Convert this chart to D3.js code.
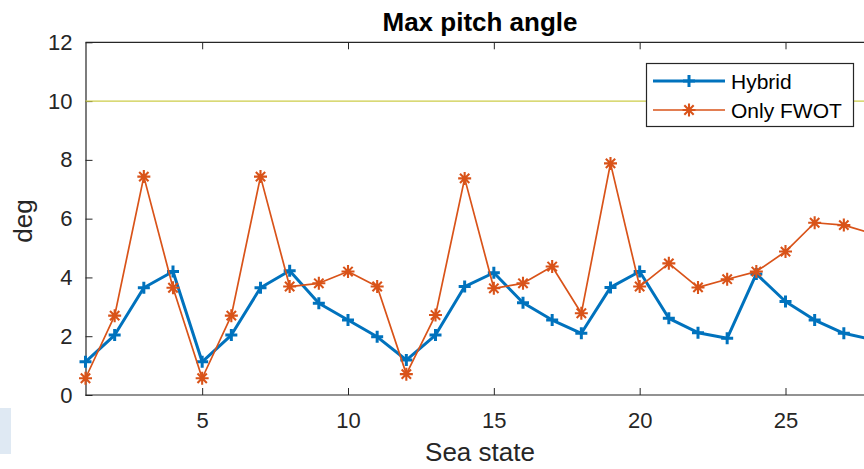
<!DOCTYPE html>
<html>
<head>
<meta charset="utf-8">
<script src="https://cdn.jsdelivr.net/npm/d3@7"></script>
<style>
  html, body { margin: 0; padding: 0; background: #fff; }
  svg { display: block; font-family: "Liberation Sans", Arial, Helvetica, sans-serif; }
</style>
</head>
<body>
<script>
// sea state index and the max pitch angle (deg) for each controller
const seaState = [1, 2, 3, 4, 5, 6, 7, 8, 9, 10, 11, 12, 13, 14, 15, 16, 17, 18, 19, 20, 21, 22, 23, 24, 25, 26, 27, 28];
const hybrid = [1.13, 2.04, 3.65, 4.2, 1.13, 2.04, 3.65, 4.23, 3.12, 2.55, 1.98, 1.19, 2.04, 3.69, 4.16, 3.14, 2.55, 2.1, 3.66, 4.2, 2.61, 2.12, 1.93, 4.12, 3.18, 2.55, 2.1, 1.88];
const onlyFwot = [0.57, 2.7, 7.43, 3.65, 0.57, 2.7, 7.43, 3.69, 3.8, 4.2, 3.69, 0.71, 2.72, 7.37, 3.63, 3.8, 4.37, 2.78, 7.88, 3.69, 4.48, 3.66, 3.94, 4.2, 4.88, 5.86, 5.78, 5.48];
const limit = 10;
const xTicks = [5, 10, 15, 20, 25];
const yTicks = [0, 2, 4, 6, 8, 10, 12];

const width = 864, height = 469;
const plotLeft = 85.5, plotTop = 42.3, plotBottom = 395;

const svg = d3.select('body').append('svg')
    .attr('width', width)
    .attr('height', height);

// little light blue patch in the lower left corner of the original picture
svg.append('rect')
    .attr('x', 0).attr('y', 408)
    .attr('width', 11).attr('height', 46)
    .attr('fill', '#dfe9f3');

const x = d3.scaleLinear().domain([1, 28]).range([plotLeft, 873]);
const y = d3.scaleLinear().domain([0, 12]).range([plotBottom, plotTop]);

const axisColor = '#262626';

// bottom axis
const gx = svg.append('g')
    .attr('transform', `translate(0,${plotBottom})`)
    .call(d3.axisBottom(x).tickValues(xTicks).tickSizeInner(-7).tickSizeOuter(0).tickPadding(17));
// top axis, ticks only
const gt = svg.append('g')
    .attr('transform', `translate(0,${plotTop})`)
    .call(d3.axisTop(x).tickValues(xTicks).tickSizeInner(-7).tickSizeOuter(0).tickFormat(''));
// left axis
const gy = svg.append('g')
    .attr('transform', `translate(${plotLeft},0)`)
    .call(d3.axisLeft(y).tickValues(yTicks).tickSizeInner(-7).tickSizeOuter(0).tickPadding(13));

[gx, gt, gy].forEach(g => {
    g.select('.domain').attr('stroke', axisColor).attr('stroke-width', 1.2);
    g.selectAll('.tick line').attr('stroke', axisColor);
    g.selectAll('.tick text')
        .attr('fill', axisColor)
        .style('font-size', '22px')
        .style('font-family', '"Liberation Sans", Arial, sans-serif');
});
// stretch the horizontal axis lines to the picture edge
gx.select('.domain').attr('d', `M${plotLeft},0H${width}`);
gt.select('.domain').attr('d', `M${plotLeft},0H${width}`);

// 10 deg limit line
svg.append('line')
    .attr('x1', x(1)).attr('x2', width)
    .attr('y1', y(limit)).attr('y2', y(limit))
    .attr('stroke', '#cccc48')
    .attr('stroke-width', 1.3);

function plusPath(r) {
    return `M${-r},0H${r}M0,${-r}V${r}`;
}
function starPath(r) {
    const d = r * 0.72;
    return `M${-r},0H${r}M0,${-r}V${r}M${-d},${-d}L${d},${d}M${-d},${d}L${d},${-d}`;
}

const series = [
    { name: 'Hybrid', values: hybrid, color: '#0072BD', width: 3, marker: plusPath(6), markerWidth: 3 },
    { name: 'Only FWOT', values: onlyFwot, color: '#D95319', width: 1.7, marker: starPath(6.5), markerWidth: 2.1 }
];

const line = d3.line()
    .x((d, i) => x(seaState[i]))
    .y(d => y(d));

series.forEach(s => {
    svg.append('path')
        .datum(s.values)
        .attr('fill', 'none')
        .attr('stroke', s.color)
        .attr('stroke-width', s.width)
        .attr('stroke-linejoin', 'round')
        .attr('d', line);

    svg.selectAll(null)
        .data(s.values)
        .enter().append('path')
        .attr('transform', (d, i) => `translate(${x(seaState[i])},${y(d)})`)
        .attr('d', s.marker)
        .attr('fill', 'none')
        .attr('stroke', s.color)
        .attr('stroke-width', s.markerWidth);
});

// title and axis labels
svg.append('text')
    .attr('x', 480).attr('y', 31)
    .attr('text-anchor', 'middle')
    .style('font-size', '26px')
    .style('font-weight', 'bold')
    .attr('fill', '#000')
    .text('Max pitch angle');

svg.append('text')
    .attr('x', 480).attr('y', 461)
    .attr('text-anchor', 'middle')
    .style('font-size', '26px')
    .attr('fill', axisColor)
    .text('Sea state');

svg.append('text')
    .attr('transform', 'translate(32,221) rotate(-90)')
    .attr('text-anchor', 'middle')
    .style('font-size', '26px')
    .attr('fill', axisColor)
    .text('deg');

// legend
const legend = svg.append('g');
legend.append('rect')
    .attr('x', 646.5).attr('y', 63.5)
    .attr('width', 207).attr('height', 63)
    .attr('fill', '#fff')
    .attr('stroke', axisColor)
    .attr('stroke-width', 1.2);

const legendRows = [81, 110];
series.forEach((s, i) => {
    const ly = legendRows[i];
    legend.append('line')
        .attr('x1', 653).attr('x2', 725)
        .attr('y1', ly).attr('y2', ly)
        .attr('stroke', s.color)
        .attr('stroke-width', s.width);
    legend.append('path')
        .attr('transform', `translate(689,${ly})`)
        .attr('d', s.marker)
        .attr('fill', 'none')
        .attr('stroke', s.color)
        .attr('stroke-width', s.markerWidth);
    legend.append('text')
        .attr('x', 731).attr('y', ly)
        .attr('dy', '0.36em')
        .style('font-size', '21px')
        .attr('fill', '#000')
        .text(s.name);
});
</script>
</body>
</html>
